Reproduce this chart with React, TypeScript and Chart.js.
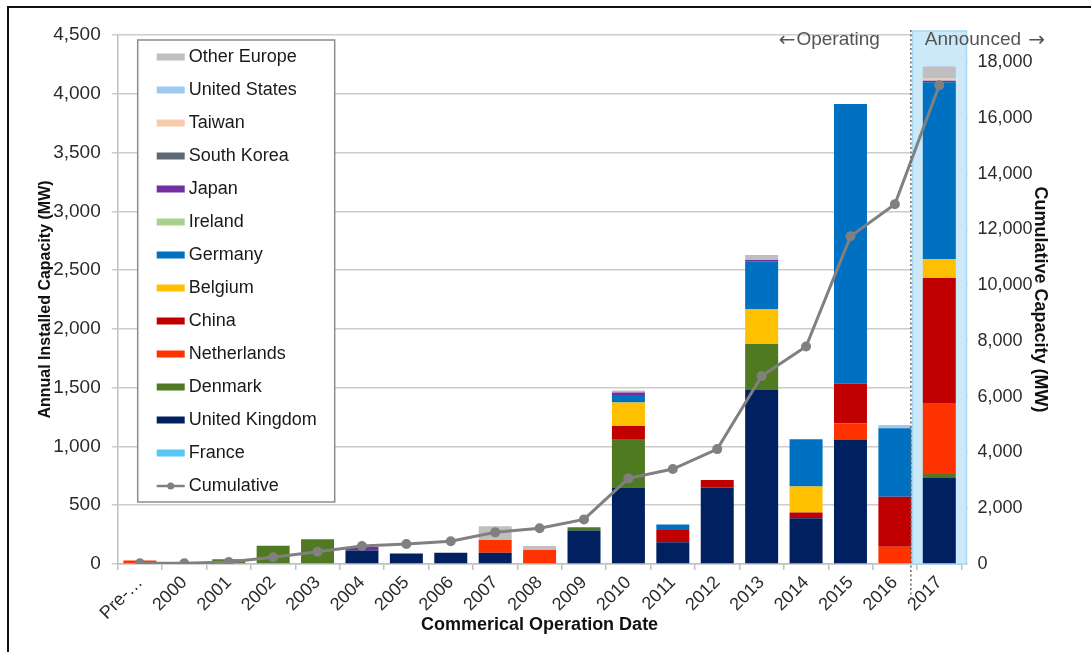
import React, { useEffect, useRef } from "react";
import { Chart, registerables } from "chart.js";

Chart.register(...registerables);

const categories = ["Pre-…", "2000", "2001", "2002", "2003", "2004", "2005", "2006", "2007", "2008", "2009", "2010", "2011", "2012", "2013", "2014", "2015", "2016", "2017"];

const franceMW = [0, 0, 0, 0, 0, 0, 0, 0, 0, 0, 0, 0, 0, 0, 0, 0, 0, 0, 0];
const unitedKingdomMW = [0, 0, 0, 0, 0, 115, 90, 95, 95, 0, 285, 650, 185, 650, 1480, 390, 1060, 0, 735];
const denmarkMW = [0, 0, 40, 155, 210, 0, 0, 0, 0, 0, 28, 414, 0, 0, 391, 0, 0, 0, 30];
const netherlandsMW = [30, 0, 0, 0, 0, 0, 0, 0, 110, 120, 0, 0, 0, 0, 0, 0, 135, 147, 605];
const chinaMW = [0, 0, 0, 0, 0, 0, 0, 0, 0, 0, 0, 110, 104, 65, 0, 48, 340, 426, 1063];
const belgiumMW = [0, 0, 0, 0, 0, 0, 0, 0, 0, 0, 0, 199, 0, 0, 298, 221, 0, 0, 162];
const germanyMW = [0, 0, 0, 0, 0, 0, 0, 0, 0, 0, 0, 65, 48, 0, 402, 403, 2378, 581, 1502];
const irelandMW = [0, 0, 0, 0, 0, 0, 0, 0, 0, 0, 0, 0, 0, 0, 0, 0, 0, 0, 0];
const japanMW = [0, 0, 0, 0, 0, 30, 0, 0, 0, 0, 0, 20, 0, 0, 14, 0, 0, 0, 13];
const southKoreaMW = [0, 0, 0, 0, 0, 0, 0, 0, 0, 0, 0, 0, 0, 0, 0, 0, 0, 0, 0];
const taiwanMW = [0, 0, 0, 0, 0, 0, 0, 0, 0, 0, 0, 0, 0, 0, 0, 0, 0, 0, 21];
const unitedStatesMW = [0, 0, 0, 0, 0, 0, 0, 0, 0, 0, 0, 0, 0, 0, 0, 0, 0, 28, 0];
const otherEuropeMW = [0, 0, 0, 0, 0, 0, 0, 0, 116, 33, 0, 17, 0, 0, 43, 0, 0, 0, 100];
const cumulativeMW = [30, 30, 70, 240, 440, 645, 715, 815, 1135, 1280, 1600, 3070, 3405, 4120, 6740, 7800, 11750, 12900, 17170];

const leftTicks = [0, 500, 1000, 1500, 2000, 2500, 3000, 3500, 4000, 4500];
const rightTicks = [0, 2000, 4000, 6000, 8000, 10000, 12000, 14000, 16000, 18000];

const announcedIndex = 18;
const FONT = "'Liberation Sans', Arial, sans-serif";
const ARROW_FONT = "'DejaVu Sans', sans-serif";

const barSeries: { label: string; data: number[]; color: string }[] = [
  { label: "France", data: franceMW, color: "#55C8F5" },
  { label: "United Kingdom", data: unitedKingdomMW, color: "#002060" },
  { label: "Denmark", data: denmarkMW, color: "#4F7A21" },
  { label: "Netherlands", data: netherlandsMW, color: "#FF3300" },
  { label: "China", data: chinaMW, color: "#C00000" },
  { label: "Belgium", data: belgiumMW, color: "#FFC000" },
  { label: "Germany", data: germanyMW, color: "#0070C0" },
  { label: "Ireland", data: irelandMW, color: "#A9D18E" },
  { label: "Japan", data: japanMW, color: "#7030A0" },
  { label: "South Korea", data: southKoreaMW, color: "#5E6873" },
  { label: "Taiwan", data: taiwanMW, color: "#F8CBAD" },
  { label: "United States", data: unitedStatesMW, color: "#9ECAF0" },
  { label: "Other Europe", data: otherEuropeMW, color: "#BFBFBF" },
];

const LINE_COLOR = "#808080";

const decorPlugin = {
  id: "decor",
  beforeDatasetsDraw(chart: any) {
    const { ctx, chartArea, scales } = chart;
    const xs = scales.x;
    const w = (chartArea.right - chartArea.left) / categories.length;
    const cx = xs.getPixelForValue(announcedIndex);
    ctx.save();
    ctx.fillStyle = "#CBE9F8";
    ctx.strokeStyle = "#A9D9F2";
    ctx.lineWidth = 1.5;
    const l = cx - 0.6 * w;
    const r = chartArea.right + 5;
    const t = chartArea.top - 4;
    ctx.fillRect(l, t, r - l, chartArea.bottom - t);
    ctx.strokeRect(l, t, r - l, chartArea.bottom - t);
    ctx.restore();
  },
  afterDraw(chart: any) {
    const { ctx, chartArea, scales, data } = chart;
    const xs = scales.x;
    const w = (chartArea.right - chartArea.left) / categories.length;
    const cx = xs.getPixelForValue(announcedIndex);
    const dotX = cx - 0.64 * w;
    ctx.save();
    // dotted separator
    ctx.strokeStyle = "#666";
    ctx.lineWidth = 1.5;
    ctx.setLineDash([2, 2.5]);
    ctx.beginPath();
    ctx.moveTo(dotX, chartArea.top - 5);
    ctx.lineTo(dotX, chartArea.bottom + 36);
    ctx.stroke();
    ctx.setLineDash([]);

    // Operating / Announced labels
    const ty = chartArea.top + 5;
    ctx.fillStyle = "#555";
    ctx.textBaseline = "middle";
    ctx.font = `19px ${FONT}`;
    ctx.textAlign = "right";
    const opRight = dotX - 31;
    ctx.fillText("Operating", opRight, ty);
    const opW = ctx.measureText("Operating").width;
    ctx.font = `20px ${ARROW_FONT}`;
    ctx.fillText("←", opRight - opW - 1, ty + 1);
    ctx.textAlign = "left";
    ctx.font = `19px ${FONT}`;
    const anLeft = dotX + 14;
    ctx.fillText("Announced", anLeft, ty);
    const anW = ctx.measureText("Announced ").width;
    ctx.font = `20px ${ARROW_FONT}`;
    ctx.fillText("→", anLeft + anW + 2, ty + 1);

    // legend box
    const bx = chartArea.left + 20;
    const by = chartArea.top + 5;
    const bw = 197;
    const bh = 462;
    ctx.fillStyle = "#fff";
    ctx.fillRect(bx, by, bw, bh);
    ctx.strokeStyle = "#8c8c8c";
    ctx.lineWidth = 1.5;
    ctx.strokeRect(bx, by, bw, bh);

    const bars = data.datasets.filter((d: any) => d.type !== "line").slice().reverse();
    const items = [...bars, data.datasets.find((d: any) => d.type === "line")];
    ctx.font = `18px ${FONT}`;
    ctx.textAlign = "left";
    ctx.textBaseline = "middle";
    items.forEach((d: any, i: number) => {
      const y = by + 17 + i * 33;
      const sx = bx + 19;
      if (d.type === "line") {
        ctx.strokeStyle = LINE_COLOR;
        ctx.lineWidth = 2.5;
        ctx.beginPath();
        ctx.moveTo(sx, y);
        ctx.lineTo(sx + 28, y);
        ctx.stroke();
        ctx.fillStyle = LINE_COLOR;
        ctx.beginPath();
        ctx.arc(sx + 14, y, 3.5, 0, Math.PI * 2);
        ctx.fill();
      } else {
        ctx.fillStyle = d.backgroundColor;
        ctx.fillRect(sx, y - 3.5, 28, 7);
      }
      ctx.fillStyle = "#1a1a1a";
      ctx.fillText(d.label, sx + 32, y);
    });

    // page frame (left and top)
    ctx.strokeStyle = "#111";
    ctx.lineWidth = 2;
    ctx.beginPath();
    ctx.moveTo(8, chart.height);
    ctx.lineTo(8, 7);
    ctx.lineTo(chart.width, 7);
    ctx.stroke();
    ctx.restore();
  },
};

export default function App() {
  const ref = useRef<HTMLCanvasElement | null>(null);

  useEffect(() => {
    if (!ref.current) return;
    const datasets: any[] = barSeries.map((s) => ({
      type: "bar",
      label: s.label,
      data: s.data,
      backgroundColor: s.color,
      borderWidth: 0,
      yAxisID: "y",
      stack: "capacity",
      barPercentage: 0.743,
      categoryPercentage: 1,
      order: 1,
    }));
    datasets.push({
      type: "line",
      label: "Cumulative",
      data: cumulativeMW,
      yAxisID: "y1",
      borderColor: LINE_COLOR,
      backgroundColor: LINE_COLOR,
      borderWidth: 3,
      pointRadius: 5,
      pointBackgroundColor: LINE_COLOR,
      pointBorderWidth: 0,
      tension: 0,
      order: 0,
    });

    const chart = new Chart(ref.current, {
      type: "bar",
      data: { labels: categories, datasets },
      plugins: [decorPlugin],
      options: {
        responsive: false,
        animation: false,
        events: [],
        layout: { padding: { top: 35, left: 0, right: 0, bottom: 0 } },
        plugins: { legend: { display: false }, tooltip: { enabled: false } },
        scales: {
          x: {
            stacked: true,
            grid: { drawOnChartArea: false, tickLength: 6, color: "#bfbfbf", lineWidth: 1.5 },
            border: { color: "#bfbfbf", width: 1.5 },
            ticks: {
              autoSkip: false,
              minRotation: 45,
              maxRotation: 45,
              padding: 2,
              color: "#2b2b2b",
              font: { family: FONT, size: 18 },
            },
            title: {
              display: true,
              text: "Commerical Operation Date",
              color: "#111",
              font: { family: FONT, size: 18, weight: "bold" },
              padding: { top: 0, bottom: 16 },
            },
            afterFit: (s: any) => {
              s.height = 88;
            },
          },
          y: {
            stacked: true,
            position: "left",
            min: 0,
            max: 4500,
            afterBuildTicks: (s: any) => {
              s.ticks = leftTicks.map((v) => ({ value: v }));
            },
            grid: { color: "#cccccc", lineWidth: 1.5, tickLength: 6 },
            border: { color: "#bfbfbf", width: 1.5 },
            ticks: {
              padding: 11,
              color: "#2b2b2b",
              font: { family: FONT, size: 19 },
            },
            title: {
              display: true,
              text: "Annual Installed Capacity (MW)",
              color: "#111",
              font: { family: FONT, size: 16, weight: "bold" },
              padding: { top: 36, bottom: 0 },
            },
            afterFit: (s: any) => {
              s.width = 117.7;
            },
          },
          y1: {
            position: "right",
            min: 0,
            max: 18970,
            afterBuildTicks: (s: any) => {
              s.ticks = rightTicks.map((v) => ({ value: v }));
            },
            grid: { drawOnChartArea: false, tickLength: 6, color: "#bfbfbf", lineWidth: 1.5 },
            border: { color: "#bfbfbf", width: 1.5 },
            ticks: {
              padding: 10,
              color: "#2b2b2b",
              font: { family: FONT, size: 18 },
            },
            title: {
              display: true,
              text: "Cumulative Capacity (MW)",
              color: "#111",
              font: { family: FONT, size: 18, weight: "bold" },
              padding: { top: 40, bottom: 0 },
            },
            afterFit: (s: any) => {
              s.width = 1091 - 961.5;
            },
          },
        },
      } as any,
    });
    return () => chart.destroy();
  }, []);

  return (
    <div style={{ position: "fixed", left: 0, top: 0, width: 1091, height: 652, background: "#fff" }}>
      <canvas ref={ref} width={1091} height={652} style={{ width: 1091, height: 652, display: "block" }} />
    </div>
  );
}
